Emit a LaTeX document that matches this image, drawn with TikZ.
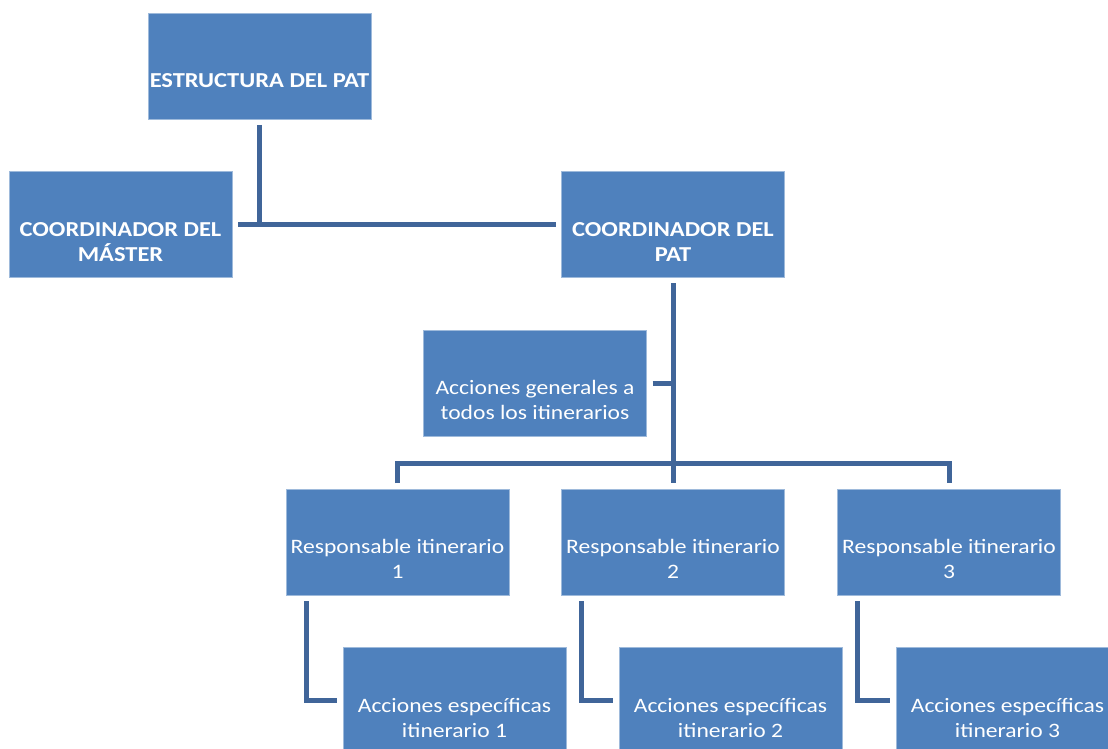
\documentclass[tikz,border=0pt]{standalone}
\usepackage{fontspec}
\setmainfont{Carlito}[FakeStretch=1.15]
\usetikzlibrary{calc}
\definecolor{boxblue}{RGB}{79,129,189}
\definecolor{linkblue}{RGB}{64,101,153}
\tikzset{
  orgbox/.style={rectangle,fill=boxblue,draw=boxblue!55!white,line width=0.6pt,
    minimum width=223pt,minimum height=106pt,outer sep=6pt,inner sep=0pt},
  orgtext/.style={text=white,align=center,font=\fontsize{20.5}{25}\selectfont},
  orghead/.style={orgtext,font=\fontsize{21.3}{25}\selectfont\bfseries},
  link/.style={draw=linkblue,line width=5pt}
}

\begin{document}
\begin{tikzpicture}[x=1pt,y=-1pt]
  \clip (0,0) rectangle (1108,749);
  \fill[white] (0,0) rectangle (1108,749);
  %%%%% boxes %%%%%
  \node[orgbox] (est) at (259.5,66) {};
  \node[orgbox] (cm) at (120.5,224) {};
  \node[orgbox] (cp) at (673,224) {};
  \node[orgbox] (ag) at (535,383) {};
  \node[orgbox] (r1) at (397.5,542) {};
  \node[orgbox] (r2) at (673,542) {};
  \node[orgbox] (r3) at (949,542) {};
  \node[orgbox] (a1) at (454.5,700) {};
  \node[orgbox] (a2) at (730.5,700) {};
  \node[orgbox] (a3) at (1007.5,700) {};
  
  %%%%% texts %%%%%
  \node[orghead] (t-est) at ($(est.center)+(0,15)$) {ESTRUCTURA DEL PAT};
  \node[orghead] (t-cm) at ($(cm.center)+(0,18)$) {COORDINADOR DEL\\MÁSTER};
  \node[orghead] (t-cp) at ($(cp.center)+(0,18)$) {COORDINADOR DEL\\PAT};
  \node[orgtext] (t-ag) at ($(ag.center)+(0,17)$) {Acciones generales a\\todos los itinerarios};
  \node[orgtext] (t-r1) at ($(r1.center)+(0,17)$) {Responsable itinerario\\1};
  \node[orgtext] (t-r2) at ($(r2.center)+(0,17)$) {Responsable itinerario\\2};
  \node[orgtext] (t-r3) at ($(r3.center)+(0,17)$) {Responsable itinerario\\3};
  \node[orgtext] (t-a1) at ($(a1.center)+(0,18)$) {Acciones específicas\\itinerario 1};
  \node[orgtext] (t-a2) at ($(a2.center)+(0,18)$) {Acciones específicas\\itinerario 2};
  \node[orgtext] (t-a3) at ($(a3.center)+(0,18)$) {Acciones específicas\\itinerario 3};
  
  %%%%% links %%%%%
  \coordinate (bus) at (673,463);
  \draw[link] (cm.east) -- (cp.west);
  \draw[link] (est.south) -- (est.south |- cm.east);
  \draw[link] (cp.south) -- (r2.north);
  \draw[link] (ag.east) -- (ag.east -| cp.south);
  \draw[link] (r1.north) |- (bus) -| (r3.north);
  \draw[link] ([xshift=26pt]r1.south west) |- (a1.west);
  \draw[link] ([xshift=26pt]r2.south west) |- (a2.west);
  \draw[link] ([xshift=26pt]r3.south west) |- (a3.west);
\end{tikzpicture}
\end{document}
